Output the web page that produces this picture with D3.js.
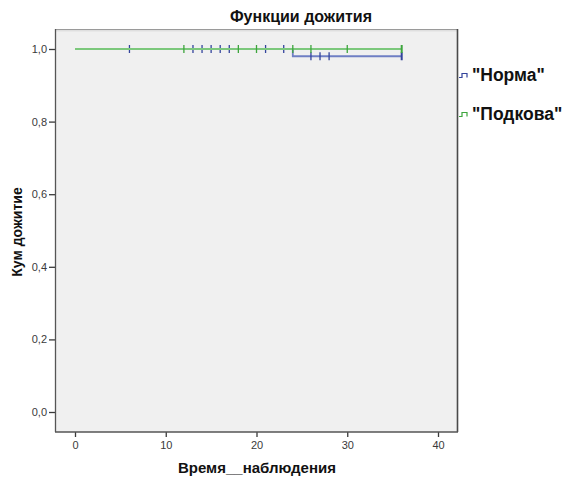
<!DOCTYPE html>
<html>
<head>
<meta charset="utf-8">
<script src="https://cdn.jsdelivr.net/npm/d3@7"></script>
<style>
  html, body { margin: 0; padding: 0; background: #ffffff; }
  svg { display: block; font-family: "Liberation Sans", Arial, sans-serif; }
</style>
</head>
<body>
<svg id="chart" width="566" height="477"></svg>
<script>
// Kaplan–Meier survival functions for two groups
const groups = ["\"Норма\"", "\"Подкова\""];

// step points: event times and cumulative survival after each step
const normaTimes = [0, 24, 36];
const normaSurv = [1.0, 0.98, 0.98];
const podkovaTimes = [0, 36];
const podkovaSurv = [1.0, 1.0];

// censored observations (time, survival at that time)
const normaCensorTimes = [6, 13, 14, 15, 16, 17, 21, 23, 26, 27, 28, 36];
const normaCensorSurv = [1, 1, 1, 1, 1, 1, 1, 1, 0.98, 0.98, 0.98, 0.98];
const podkovaCensorTimes = [12, 18, 20, 24, 26, 30, 36];
const podkovaCensorSurv = [1, 1, 1, 1, 1, 1, 1];

const xTicks = [0, 10, 20, 30, 40];
const yTicks = [0, 0.2, 0.4, 0.6, 0.8, 1.0];

const lineColors = ["#6f7fc4", "#7cc87c"];
const markColors = ["#33449c", "#3da53d"];

const svg = d3.select("#chart");

// plot frame
const frame = { left: 55, right: 458, top: 29, bottom: 432 };

const x = d3.scaleLinear().domain([0, 40]).range([75, 438]);
const y = d3.scaleLinear().domain([0, 1]).range([412, 49]);

svg.append("rect")
  .attr("x", frame.left).attr("y", frame.top)
  .attr("width", frame.right - frame.left)
  .attr("height", frame.bottom - frame.top)
  .attr("fill", "#f0f0f0");

// top and right borders
svg.append("line")
  .attr("x1", frame.left).attr("x2", frame.right)
  .attr("y1", frame.top + 0.5).attr("y2", frame.top + 0.5)
  .attr("stroke", "#9a9a9a").attr("stroke-width", 1.2);
svg.append("line")
  .attr("x1", frame.left).attr("x2", frame.right)
  .attr("y1", frame.top + 1.8).attr("y2", frame.top + 1.8)
  .attr("stroke", "#d8d8d8").attr("stroke-width", 1);
svg.append("line")
  .attr("x1", frame.right - 0.5).attr("x2", frame.right - 0.5)
  .attr("y1", frame.top).attr("y2", frame.bottom)
  .attr("stroke", "#4a4a4a").attr("stroke-width", 1.6);

// axes
const fmt = d => d3.format(".1f")(d).replace(".", ",");
const yAxis = d3.axisLeft(y).tickValues(yTicks).tickFormat(fmt).tickSize(6).tickPadding(2);
const xAxis = d3.axisBottom(x).tickValues(xTicks).tickFormat(d3.format("d")).tickSize(5).tickPadding(4);

const gy = svg.append("g").attr("transform", `translate(${frame.left},0)`).call(yAxis);
const gx = svg.append("g").attr("transform", `translate(0,${frame.bottom})`).call(xAxis);

[gy, gx].forEach(g => {
  g.select(".domain").remove();
  g.selectAll(".tick line").attr("stroke", "#3a3a3a").attr("stroke-width", 1.3);
  g.selectAll(".tick text").attr("fill", "#3a3a3a").style("font-size", "11px")
    .style("font-family", "\"Liberation Sans\", Arial, sans-serif");
});

svg.append("line")
  .attr("x1", frame.left + 0.5).attr("x2", frame.left + 0.5)
  .attr("y1", frame.top).attr("y2", frame.bottom)
  .attr("stroke", "#555").attr("stroke-width", 1.3);
svg.append("line")
  .attr("x1", frame.left).attr("x2", frame.right)
  .attr("y1", frame.bottom).attr("y2", frame.bottom)
  .attr("stroke", "#555").attr("stroke-width", 1.3);

// survival step curves
const stepLine = d3.line().x(d => x(d[0])).y(d => y(d[1])).curve(d3.curveStepAfter);
const series = [
  { times: normaTimes, surv: normaSurv, ct: normaCensorTimes, cs: normaCensorSurv },
  { times: podkovaTimes, surv: podkovaSurv, ct: podkovaCensorTimes, cs: podkovaCensorSurv }
];

series.forEach((s, i) => {
  const pts = s.times.map((t, j) => [t, s.surv[j]]);
  svg.append("path")
    .datum(pts)
    .attr("d", stepLine)
    .attr("fill", "none")
    .attr("stroke", lineColors[i])
    .attr("stroke-width", 1.8);

  const marks = s.ct.map((t, j) => ({ t, v: s.cs[j] }));
  svg.append("g").selectAll("line")
    .data(marks)
    .join("line")
    .attr("x1", d => x(d.t)).attr("x2", d => x(d.t))
    .attr("y1", d => y(d.v) - 4).attr("y2", d => y(d.v) + 4)
    .attr("stroke", markColors[i])
    .attr("stroke-width", d => d.t === 36 ? 2 : 1.3);
});

// title and axis labels
svg.append("text")
  .attr("x", 301).attr("y", 22)
  .attr("text-anchor", "middle")
  .style("font-weight", "bold").style("font-size", "16px")
  .attr("fill", "#111")
  .text("Функции дожития");

svg.append("text")
  .attr("transform", "translate(22,232) rotate(-90)")
  .attr("text-anchor", "middle")
  .style("font-weight", "bold").style("font-size", "14px")
  .attr("fill", "#111")
  .text("Кум дожитие");

svg.append("text")
  .attr("x", 257).attr("y", 473)
  .attr("text-anchor", "middle")
  .style("font-weight", "bold").style("font-size", "15px")
  .attr("fill", "#111")
  .text("Время__наблюдения");

// legend
const legendY = d3.scalePoint().domain(groups).range([75, 114]);
const legend = svg.append("g").selectAll("g")
  .data(groups)
  .join("g")
  .attr("transform", d => `translate(459,${legendY(d)})`);

legend.append("path")
  .attr("d", "M0,2.5 H3 V-1.5 H8 V2.5")
  .attr("fill", "none")
  .attr("stroke", (d, i) => markColors[i])
  .attr("stroke-width", 1.2);

legend.append("text")
  .attr("x", 13).attr("y", 6)
  .style("font-weight", "bold").style("font-size", "17.5px")
  .attr("fill", "#111")
  .text(d => d);
</script>
</body>
</html>
